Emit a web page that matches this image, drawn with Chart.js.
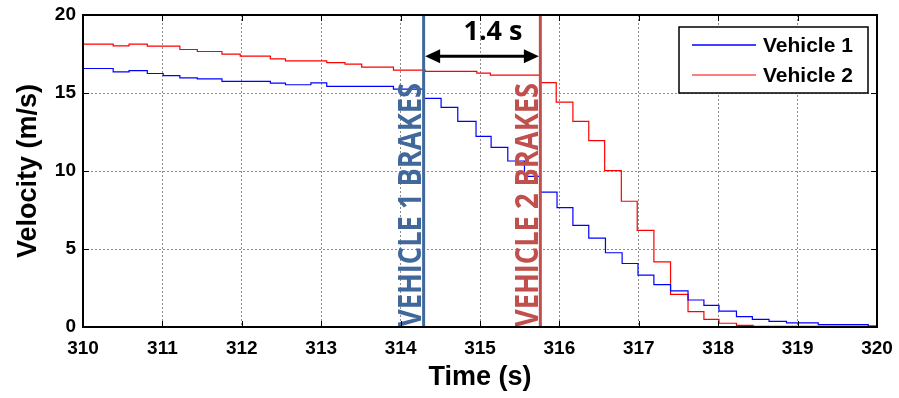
<!DOCTYPE html>
<html><head><meta charset="utf-8">
<script src="https://cdn.jsdelivr.net/npm/chart.js@4.4.0/dist/chart.umd.min.js"></script>
<style>html,body{margin:0;padding:0;background:#fff}#wrap{width:899px;height:398px}</style>
</head><body><div id="wrap"><canvas id="c" width="899" height="398"></canvas></div>
<script>
// ---- data (time in s, velocity in m/s; each value holds until next time) ----
const seriesNames = ['Vehicle 1', 'Vehicle 2'];
const v1Times = [310.0,310.38,310.58,310.81,311.01,311.22,311.44,311.75,312.36,312.55,312.87,313.07,313.91,314.30,314.51,314.72,314.95,315.14,315.35,315.56,315.76,315.97,316.17,316.37,316.58,316.79,316.99,317.19,317.40,317.62,317.82,318.01,318.23,318.43,318.64,318.86,319.26,319.89,320.0];
const v1Speeds = [16.57,16.36,16.44,16.25,16.12,15.97,15.91,15.74,15.63,15.53,15.65,15.42,15.25,14.65,14.08,13.18,12.22,11.52,10.64,9.66,8.65,7.65,6.52,5.70,4.76,4.07,3.32,2.72,2.32,1.73,1.39,1.02,0.66,0.49,0.36,0.27,0.15,0.06,0.06];
const v2Times = [310.0,310.38,310.58,310.81,311.22,311.44,311.75,311.98,312.36,312.55,313.07,313.30,313.51,313.91,314.31,314.96,315.13,315.76,315.96,316.17,316.37,316.57,316.78,316.98,317.19,317.40,317.62,317.82,318.01,318.23,318.44,320.0];
const v2Speeds = [18.13,18.02,18.13,18.00,17.79,17.66,17.49,17.36,17.19,17.06,16.95,16.85,16.66,16.46,16.38,16.28,16.15,15.66,14.42,13.18,11.95,10.02,8.06,6.20,4.17,2.09,0.98,0.49,0.24,0.11,0.04,0.04];
const brakeTimes = [314.29, 315.76];
const brakeLabels = ['VEHICLE 1 BRAKES', 'VEHICLE 2 BRAKES'];
const gapLabel = '1.4 s';
const xTicks = [310,311,312,313,314,315,316,317,318,319,320];
const yTicks = [0,5,10,15,20];
const xTitle = 'Time (s)';
const yTitle = 'Velocity (m/s)';

const lineColors = ['#0000ff', '#ff0000'];
const brakeColors = ['#41689b', '#c0504d'];

const toPts = (ts, vs) => ts.map((t, i) => ({x: t, y: vs[i]}));

const annot = {
  id: 'annot',
  afterDatasetsDraw(chart) {
    const {ctx, chartArea: a, scales: {x, y}} = chart;
    brakeTimes.forEach((t, i) => {
      const px = x.getPixelForValue(t);
      ctx.save();
      ctx.strokeStyle = brakeColors[i];
      ctx.lineWidth = 3;
      ctx.beginPath(); ctx.moveTo(px, a.top); ctx.lineTo(px, a.bottom); ctx.stroke();
      ctx.translate(px - 2.5, a.bottom);
      ctx.rotate(-Math.PI / 2);
      ctx.font = 'bold 32px "Open Sans"';
      const w = ctx.measureText(brakeLabels[i]).width;
      ctx.scale(244 / w, 1);
      ctx.fillStyle = brakeColors[i];
      ctx.textBaseline = 'alphabetic';
      ctx.textAlign = 'left';
      ctx.fillText(brakeLabels[i], 0, 0);
      ctx.restore();
    });
    // double arrow between brake times
    const x1 = x.getPixelForValue(brakeTimes[0]) + 1.5;
    const x2 = x.getPixelForValue(brakeTimes[1]) - 1.5;
    const ay = y.getPixelForValue(17.35);
    ctx.save();
    ctx.strokeStyle = '#000'; ctx.fillStyle = '#000'; ctx.lineWidth = 3;
    ctx.beginPath(); ctx.moveTo(x1 + 10, ay); ctx.lineTo(x2 - 10, ay); ctx.stroke();
    ctx.beginPath(); ctx.moveTo(x1, ay); ctx.lineTo(x1 + 15, ay - 7); ctx.lineTo(x1 + 15, ay + 7); ctx.closePath(); ctx.fill();
    ctx.beginPath(); ctx.moveTo(x2, ay); ctx.lineTo(x2 - 15, ay - 7); ctx.lineTo(x2 - 15, ay + 7); ctx.closePath(); ctx.fill();
    ctx.font = 'bold 27px "Open Sans"';
    ctx.textAlign = 'center'; ctx.textBaseline = 'middle';
    ctx.fillText(gapLabel, (x1 + x2) / 2 + 11, y.getPixelForValue(18.9));
    ctx.restore();
  },
  afterDraw(chart) {
    const {ctx, chartArea: a, scales: {x, y}} = chart;
    ctx.save();
    // inside tick marks
    ctx.strokeStyle = '#000'; ctx.lineWidth = 1;
    xTicks.forEach(t => {
      const px = Math.round(x.getPixelForValue(t)) + 0.5;
      ctx.beginPath(); ctx.moveTo(px, a.bottom); ctx.lineTo(px, a.bottom - 6);
      ctx.moveTo(px, a.top); ctx.lineTo(px, a.top + 6); ctx.stroke();
    });
    yTicks.forEach(v => {
      const py = Math.round(y.getPixelForValue(v)) + 0.5;
      ctx.beginPath(); ctx.moveTo(a.left, py); ctx.lineTo(a.left + 6, py);
      ctx.moveTo(a.right, py); ctx.lineTo(a.right - 6, py); ctx.stroke();
    });
    // box
    ctx.lineWidth = 2; ctx.strokeStyle = '#000';
    ctx.strokeRect(a.left, a.top, a.right - a.left, a.bottom - a.top);
    // legend
    const lx = 679, ly = 27, lw = 189, lh = 66;
    ctx.fillStyle = '#fff'; ctx.fillRect(lx, ly, lw, lh);
    ctx.lineWidth = 1.5; ctx.strokeRect(lx, ly, lw, lh);
    ctx.font = 'bold 21px Arial, "Liberation Sans"';
    ctx.textBaseline = 'middle'; ctx.textAlign = 'left';
    [0, 1].forEach(i => {
      const yy = ly + 18 + i * 30;
      ctx.strokeStyle = lineColors[i]; ctx.lineWidth = i === 0 ? 1.5 : 1.2;
      ctx.beginPath(); ctx.moveTo(lx + 13, yy); ctx.lineTo(lx + 77, yy); ctx.stroke();
      ctx.fillStyle = '#000';
      ctx.fillText(seriesNames[i], lx + 84, yy + 1);
    });
    ctx.restore();
  }
};

const tickFont = {family: 'Arial, "Liberation Sans"', size: 19, weight: 'bold'};
const titleFont = {family: 'Arial, "Liberation Sans"', size: 27, weight: 'bold'};
const gridStyle = {color: 'rgba(0,0,0,0.45)', lineWidth: 1, drawTicks: false};
const noPad = s => { s.paddingLeft = 0; s.paddingRight = 0; s.paddingTop = 0; s.paddingBottom = 0; };

new Chart(document.getElementById('c'), {
  type: 'line',
  data: {
    datasets: [
      {label: seriesNames[0], data: toPts(v1Times, v1Speeds), borderColor: lineColors[0], borderWidth: 1.2, pointRadius: 0, stepped: 'before', fill: false},
      {label: seriesNames[1], data: toPts(v2Times, v2Speeds), borderColor: lineColors[1], borderWidth: 1.2, pointRadius: 0, stepped: 'before', fill: false}
    ]
  },
  options: {
    responsive: false, animation: false, devicePixelRatio: 1,
    layout: {padding: {top: 15, right: 22, left: 0, bottom: 0}},
    plugins: {legend: {display: false}, tooltip: {enabled: false}},
    scales: {
      x: {
        type: 'linear', min: 310, max: 320,
        afterBuildTicks: s => { s.ticks = xTicks.map(v => ({value: v})); },
        afterFit: s => { s.height = 71; noPad(s); },
        ticks: {font: tickFont, color: '#000', padding: 10, maxRotation: 0},
        grid: {...gridStyle},
        border: {display: false, dash: [2, 2]},
        title: {display: true, text: xTitle, font: titleFont, color: '#000', padding: {top: 0, bottom: 4}}
      },
      y: {
        type: 'linear', min: 0, max: 20,
        afterBuildTicks: s => { s.ticks = yTicks.map(v => ({value: v})); },
        afterFit: s => { s.width = 83; noPad(s); },
        ticks: {font: tickFont, color: '#000', padding: 7},
        grid: {...gridStyle},
        border: {display: false, dash: [2, 2]},
        title: {display: true, text: yTitle, font: titleFont, color: '#000', padding: {top: 12, bottom: 0}}
      }
    }
  },
  plugins: [annot]
});
</script>
</body></html>
